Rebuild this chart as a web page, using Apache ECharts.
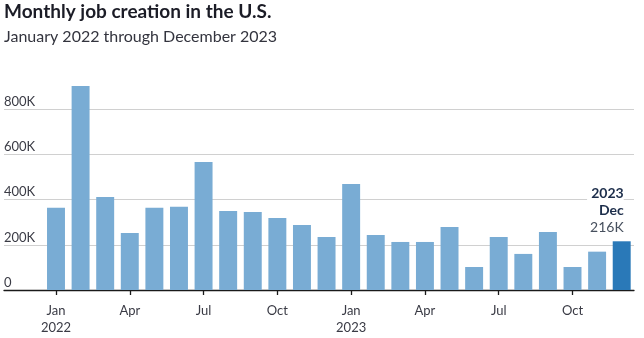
<!DOCTYPE html>
<html>
<head>
<meta charset="utf-8">
<script src="https://cdn.jsdelivr.net/npm/echarts@6/dist/echarts.min.js"></script>
<style>
html,body{margin:0;padding:0;background:#fff;}
#chart{width:644px;height:338px;}
</style>
</head>
<body>
<div id="chart"></div>
<script>
const months = ['Jan','Feb','Mar','Apr','May','Jun','Jul','Aug','Sep','Oct','Nov','Dec',
                'Jan','Feb','Mar','Apr','May','Jun','Jul','Aug','Sep','Oct','Nov','Dec'];
const years = ['2022','2022','2022','2022','2022','2022','2022','2022','2022','2022','2022','2022',
               '2023','2023','2023','2023','2023','2023','2023','2023','2023','2023','2023','2023'];
const jobs = [365, 905, 412, 253, 365, 369, 568, 350, 346, 319, 288, 235,
              470, 244, 213, 213, 279, 102, 235, 160, 257, 102, 170, 216];
const yTicks = [0, 200, 400, 600, 800];

const FONT = 'Lato';
const categories = months.map((m, i) => m + ' ' + years[i]);
const last = jobs.length - 1;

const chart = echarts.init(document.getElementById('chart'), null, {renderer: 'canvas'});
chart.setOption({
  animation: false,
  backgroundColor: '#fff',
  textStyle: {fontFamily: FONT},
  title: {
    text: 'Monthly job creation in the U.S.',
    subtext: 'January 2022 through December 2023',
    left: 4, top: 2, padding: 0, itemGap: 8,
    textStyle: {fontFamily: FONT, fontSize: 19, fontWeight: 'bold', color: '#1b1c26'},
    subtextStyle: {fontFamily: FONT, fontSize: 16, color: '#33343e'}
  },
  grid: [
    {left: 4, right: 10, top: 109.3, bottom: 48},
    {left: 43.7, right: 10, top: 64.5, bottom: 48}
  ],
  xAxis: [
    {gridIndex: 0, type: 'value', min: 0, max: 1, show: true,
     axisLine: {show: true, onZero: false, lineStyle: {color: '#1a1a1a', width: 1.3}},
     axisTick: {show: false}, axisLabel: {show: false}, splitLine: {show: false}},
    {gridIndex: 1, type: 'category', data: categories,
     axisLine: {show: false},
     axisTick: {show: true, alignWithLabel: true, interval: 2, length: 5,
                lineStyle: {color: '#1a1a1a', width: 1.3}},
     axisLabel: {interval: 2, margin: 12, fontFamily: FONT, fontSize: 13, color: '#3a3b45', lineHeight: 17,
       formatter: (v, i) => months[i] === 'Jan' ? months[i] + '\n' + years[i] : months[i]}}
  ],
  yAxis: [
    {gridIndex: 0, type: 'value', min: yTicks[0], max: yTicks[yTicks.length - 1],
     interval: yTicks[1] - yTicks[0],
     axisLine: {show: false}, axisTick: {show: false},
     splitLine: {show: true, lineStyle: {color: '#d0d0d0', width: 1}},
     axisLabel: {inside: true, margin: 0, verticalAlign: 'bottom', lineHeight: 15,
       fontFamily: FONT, fontSize: 13, color: '#3a3b45',
       formatter: v => v === 0 ? '0' : v + 'K'}},
    {gridIndex: 1, type: 'value', min: 0, max: 1000, show: false}
  ],
  series: [{
    type: 'bar',
    xAxisIndex: 1, yAxisIndex: 1,
    barCategoryGap: '27%',
    itemStyle: {color: '#79acd4'},
    data: jobs.map((v, i) => i === last ? {
      value: v,
      itemStyle: {color: '#2a79b8'},
      label: {
        show: true, position: 'top', distance: 5, align: 'right', offset: [2, 0],
        backgroundColor: '#fff', padding: [1, 0, 0, 3],
        formatter: years[i] + '\n' + months[i] + '\n' + v + 'K',
        formatter: '{y|' + years[i] + '}\n{m|' + months[i] + '}\n{v|' + v + 'K}',
        rich: {
          y: {fontFamily: FONT, fontSize: 14, fontWeight: 'bold', color: '#1d2e4b', lineHeight: 17, align: 'right'},
          m: {fontFamily: FONT, fontSize: 14, fontWeight: 'bold', color: '#1d2e4b', lineHeight: 17, align: 'right'},
          v: {fontFamily: FONT, fontSize: 14, color: '#47505e', lineHeight: 17, align: 'right'}
        }
      }
    } : v)
  }]
});
</script>
</body>
</html>
